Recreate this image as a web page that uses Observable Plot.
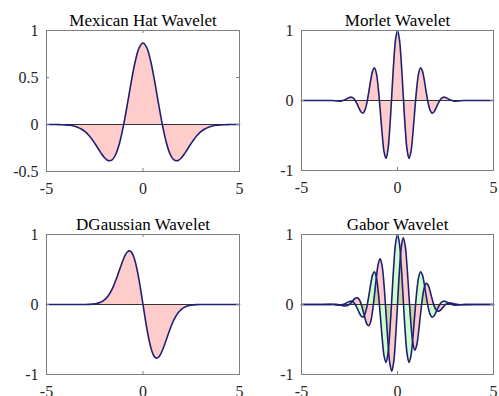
<!DOCTYPE html>
<html>
<head>
<meta charset="utf-8">
<script src="https://cdn.jsdelivr.net/npm/d3@7"></script>
<script src="https://cdn.jsdelivr.net/npm/@observablehq/plot@0.6"></script>
<style>
  html, body { margin: 0; padding: 0; background: #fff; overflow: hidden; }
  #chart { position: relative; width: 499px; height: 396px; overflow: hidden; background: #fff; }
  .panel { position: absolute; }
</style>
</head>
<body>
<div id="chart"></div>
<script>
// ---------- data ----------
const titles = ["Mexican Hat Wavelet", "Morlet Wavelet", "DGaussian Wavelet", "Gabor Wavelet"];
const xTicks = [-5, 0, 5];
const hatTicks = [-0.5, 0, 0.5, 1];
const unitTicks = [-1, 0, 1];

const hatX = [-5, -4.8, -4.6, -4.4, -4.2, -4, -3.8, -3.6, -3.4, -3.2, -3, -2.8, -2.6, -2.4, -2.2, -2, -1.8, -1.6, -1.4, -1.2, -1, -0.8, -0.6, -0.4, -0.2, 0,
  0.2, 0.4, 0.6, 0.8, 1, 1.2, 1.4, 1.6, 1.8, 2, 2.2, 2.4, 2.6, 2.8, 3, 3.2, 3.4, 3.6, 3.8, 4, 4.2, 4.4, 4.6, 4.8, 5];
const hatY = [-0.0001, -0.0002, -0.0004, -0.0010, -0.0021, -0.0044, -0.0085, -0.0160, -0.0283, -0.0479, -0.0770, -0.1175, -0.1699, -0.2316, -0.2961, -0.3520, -0.3845, -0.3761, -0.3125, -0.1858, 0, 0.2267, 0.4637, 0.6725, 0.8161, 0.8673,
  0.8161, 0.6725, 0.4637, 0.2267, 0, -0.1858, -0.3125, -0.3761, -0.3845, -0.3520, -0.2961, -0.2316, -0.1699, -0.1175, -0.0770, -0.0479, -0.0283, -0.0160, -0.0085, -0.0044, -0.0021, -0.0010, -0.0004, -0.0002, -0.0001];

const morletX = [-5, -4, -3.6, -3.5, -3.4, -3.3, -3.2, -3.1, -3, -2.9, -2.8, -2.7, -2.6, -2.5, -2.4, -2.3, -2.2, -2.1, -2, -1.9, -1.8, -1.7, -1.6, -1.5, -1.4, -1.3, -1.2, -1.1, -1, -0.9, -0.8, -0.7, -0.6, -0.5, -0.4, -0.3, -0.2, -0.1, 0,
  0.1, 0.2, 0.3, 0.4, 0.5, 0.6, 0.7, 0.8, 0.9, 1, 1.1, 1.2, 1.3, 1.4, 1.5, 1.6, 1.7, 1.8, 1.9, 2, 2.1, 2.2, 2.3, 2.4, 2.5, 2.6, 2.7, 2.8, 2.9, 3, 3.1, 3.2, 3.3, 3.4, 3.5, 3.6, 4, 5];
const morletY = [0, 0, 0.001, 0.0005, -0.0009, -0.0030, -0.0057, -0.0080, -0.0084, -0.0053, 0.0027, 0.0155, 0.0309, 0.0438, 0.0473, 0.0343, 0.0004, -0.0524, -0.1135, -0.1640, -0.1803, -0.1419, -0.0404, 0.1125, 0.2829, 0.4195, 0.4674, 0.3870, 0.1721, -0.1406, -0.4746, -0.7330, -0.8269, -0.7070, -0.3841, 0.0676, 0.5296, 0.8732, 1,
  0.8732, 0.5296, 0.0676, -0.3841, -0.7070, -0.8269, -0.7330, -0.4746, -0.1406, 0.1721, 0.3870, 0.4674, 0.4195, 0.2829, 0.1125, -0.0404, -0.1419, -0.1803, -0.1640, -0.1135, -0.0524, 0.0004, 0.0343, 0.0473, 0.0438, 0.0309, 0.0155, 0.0027, -0.0053, -0.0084, -0.0080, -0.0057, -0.0030, -0.0009, 0.0005, 0.001, 0, 0];

const dgX = [-5, -4, -3.4, -3.2, -3, -2.8, -2.6, -2.4, -2.2, -2, -1.8, -1.6, -1.5, -1.4, -1.3, -1.2, -1.1, -1, -0.9, -0.8, -0.7, -0.6, -0.5, -0.4, -0.3, -0.2, -0.1, 0,
  0.1, 0.2, 0.3, 0.4, 0.5, 0.6, 0.7, 0.8, 0.9, 1, 1.1, 1.2, 1.3, 1.4, 1.5, 1.6, 1.8, 2, 2.2, 2.4, 2.6, 2.8, 3, 3.2, 3.4, 4, 5];
const dgY = [0, 0, 0.0001, 0.0002, 0.0007, 0.0020, 0.0054, 0.0135, 0.0311, 0.0654, 0.1260, 0.2210, 0.2825, 0.3524, 0.4285, 0.5079, 0.5860, 0.6572, 0.7153, 0.7536, 0.7661, 0.7479, 0.6957, 0.6089, 0.4898, 0.3433, 0.1769, 0,
  -0.1769, -0.3433, -0.4898, -0.6089, -0.6957, -0.7479, -0.7661, -0.7536, -0.7153, -0.6572, -0.5860, -0.5079, -0.4285, -0.3524, -0.2825, -0.2210, -0.1260, -0.0654, -0.0311, -0.0135, -0.0054, -0.0020, -0.0007, -0.0002, -0.0001, 0, 0];

const gaborX = morletX;
const gaborReal = morletY;
const gaborImag = [0, 0, 0.0012, 0.0021, 0.0030, 0.0031, 0.0017, -0.0017, -0.0072, -0.0139, -0.0196, -0.0210, -0.0143, 0.0029, 0.0301, 0.0622, 0.0889, 0.0970, 0.0736, 0.0124, -0.0816, -0.1882, -0.2751, -0.3046, -0.2466, -0.0924, 0.1360, 0.3853, 0.5816, 0.6520, 0.5495, 0.2746, -0.1179, -0.5282, -0.8394, -0.9536, -0.8248, -0.4770, 0,
  0.4770, 0.8248, 0.9536, 0.8394, 0.5282, 0.1179, -0.2746, -0.5495, -0.6520, -0.5816, -0.3853, -0.1360, 0.0924, 0.2466, 0.3046, 0.2751, 0.1882, 0.0816, -0.0124, -0.0736, -0.0970, -0.0889, -0.0622, -0.0301, -0.0029, 0.0143, 0.0210, 0.0196, 0.0139, 0.0072, 0.0017, -0.0017, -0.0031, -0.0030, -0.0021, -0.0012, 0, 0];

// ---------- drawing ----------
const FONT = "'Liberation Serif', 'Times New Roman', Times, serif";
const rows = (xs, ys) => xs.map((x, i) => ({x, y: ys[i]}));
const fmt = d => String(d);

function panel({title, series, yDomain, yTicks, left, top, width, height, mL, mR, mT, mB}) {
  const fw = width - mL - mR, fh = height - mT - mB;
  const marks = [];
  for (const s of series) {
    marks.push(Plot.areaY(s.data, {x: "x", y: "y", fill: s.fill, fillOpacity: 0.2, curve: "catmull-rom"}));
  }
  marks.push(Plot.ruleY([0], {stroke: "#333", strokeWidth: 1}));
  for (const s of series) {
    marks.push(Plot.line(s.data, {x: "x", y: "y", stroke: "#1f1f73", strokeWidth: 1.6, curve: "catmull-rom"}));
  }
  marks.push(Plot.tickX(xTicks, {x: d => d, stroke: "#808080", insetTop: fh - 3}));
  marks.push(Plot.tickX(xTicks, {x: d => d, stroke: "#808080", insetBottom: fh - 3}));
  marks.push(Plot.tickY(yTicks, {y: d => d, stroke: "#808080", insetRight: fw - 3}));
  marks.push(Plot.tickY(yTicks, {y: d => d, stroke: "#808080", insetLeft: fw - 3}));
  marks.push(Plot.frame({stroke: "#808080"}));
  marks.push(Plot.text([title], {text: d => d, frameAnchor: "top", lineAnchor: "top", dy: -17, fontSize: 17, fill: "#000"}));
  const svg = Plot.plot({
    width, height,
    marginLeft: mL, marginRight: mR, marginTop: mT, marginBottom: mB,
    x: {domain: [-5, 5], ticks: xTicks, tickSize: 0, tickPadding: 11, tickFormat: fmt, label: null},
    y: {domain: yDomain, ticks: yTicks, tickSize: 0, tickPadding: 8, tickFormat: fmt, label: null},
    style: {fontFamily: FONT, fontSize: "16px", color: "#262626", background: "transparent", overflow: "visible", maxWidth: "none"},
    marks
  });
  const div = document.createElement("div");
  div.className = "panel";
  div.style.left = left + "px";
  div.style.top = top + "px";
  div.appendChild(svg);
  document.getElementById("chart").appendChild(div);
}

panel({title: titles[0], series: [{data: rows(hatX, hatY), fill: "red"}], yDomain: [-0.5, 1], yTicks: hatTicks,
  left: 0, top: 0, width: 250, height: 200, mL: 46, mR: 11, mT: 30, mB: 29});
panel({title: titles[1], series: [{data: rows(morletX, morletY), fill: "red"}], yDomain: [-1, 1], yTicks: unitTicks,
  left: 250, top: 0, width: 249, height: 200, mL: 51, mR: 6, mT: 30, mB: 30});
panel({title: titles[2], series: [{data: rows(dgX, dgY), fill: "red"}], yDomain: [-1, 1], yTicks: unitTicks,
  left: 0, top: 200, width: 250, height: 196, mL: 46, mR: 11, mT: 34, mB: 22});
panel({title: titles[3], series: [{data: rows(gaborX, gaborImag), fill: "red"}, {data: rows(gaborX, gaborReal), fill: "lime"}], yDomain: [-1, 1], yTicks: unitTicks,
  left: 250, top: 200, width: 249, height: 196, mL: 51, mR: 6, mT: 34, mB: 22});
</script>
</body>
</html>
